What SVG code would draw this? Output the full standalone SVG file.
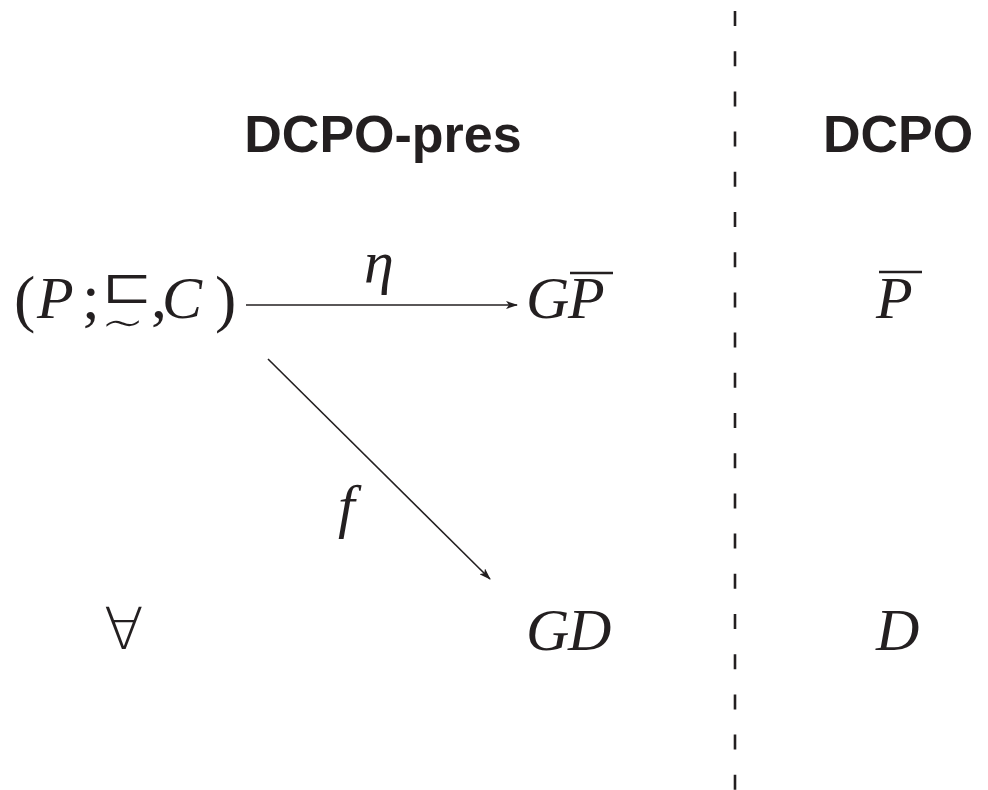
<svg xmlns="http://www.w3.org/2000/svg" width="988" height="790" viewBox="0 0 988 790">
<style>
.hd{font-family:"Liberation Sans",Arial,sans-serif;font-weight:bold;font-size:52px;fill:#231f20}
.m{font-family:"Liberation Serif","Times New Roman",serif;font-style:italic;font-size:60px;fill:#231f20}
.u{font-family:"Liberation Serif","DejaVu Serif",serif;font-style:normal;font-size:64px;fill:#231f20}
.sym{font-family:"DejaVu Sans","DejaVu Serif",sans-serif;font-style:normal;font-weight:200;fill:#231f20}
.ov{stroke:#231f20;stroke-width:2.5}
.edge{stroke:#231f20;stroke-width:1.6;fill:none}
</style>
<defs>
<marker id="ah" viewBox="0 0 12 8" refX="11" refY="4" markerWidth="12" markerHeight="8" markerUnits="userSpaceOnUse" orient="auto">
<path d="M0,0 L12,4 L0,8 L3,4 Z" fill="#231f20"/>
</marker>
</defs>
<rect width="988" height="790" fill="#fff"/>
<line id="divider" x1="735" y1="11" x2="735" y2="790" stroke="#231f20" stroke-width="2.6" stroke-dasharray="15 25.2"/>
<g id="h-pres"><text class="hd" x="383" y="152" text-anchor="middle">DCPO-pres</text></g>
<g id="h-dcpo"><text class="hd" x="898" y="152" text-anchor="middle">DCPO</text></g>
<g id="n-P">
<text class="m" y="318"><tspan class="u" x="14" y="320">(</tspan><tspan x="37" y="318">P</tspan><tspan class="u" x="82" font-size="56">;</tspan></text>
<text class="sym" font-size="60" transform="translate(102,303) scale(1,0.74)"><tspan x="0" y="0">⊏</tspan><tspan x="-1" y="51" font-size="68">∼</tspan></text>
<text class="m" y="318"><tspan class="u" x="151" font-size="56">,</tspan><tspan x="162">C</tspan><tspan class="u" x="215" y="320">)</tspan></text>
</g>
<g id="n-GPbar">
<text class="m" x="526" y="318">G<tspan x="568">P</tspan></text>
<line class="ov" x1="570" y1="273" x2="613" y2="273"/>
</g>
<g id="n-Pbar">
<text class="m" x="876" y="318">P</text>
<line class="ov" x1="879" y1="272" x2="922" y2="272"/>
</g>
<g id="n-forall"><text class="sym" x="104" y="649" font-size="58">∀</text></g>
<g id="n-GD"><text class="m" x="526" y="650">G<tspan x="568">D</tspan></text></g>
<g id="n-D"><text class="m" x="876" y="650">D</text></g>
<g id="connectors">
<line class="edge" x1="246" y1="305" x2="517" y2="305" marker-end="url(#ah)"/>
<text class="m" x="364" y="282">η</text>
<line class="edge" x1="268" y1="359" x2="490" y2="579" marker-end="url(#ah)"/>
<text class="m" x="338" y="526">f</text>
</g>
</svg>
